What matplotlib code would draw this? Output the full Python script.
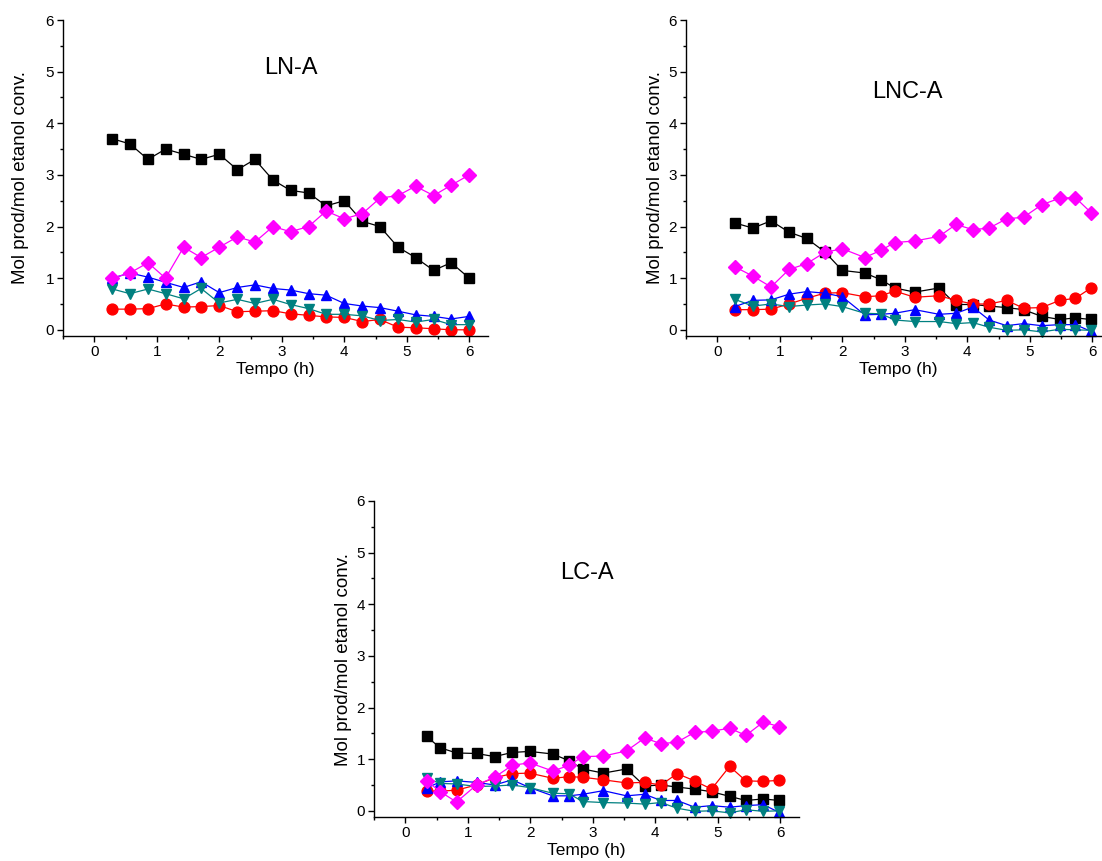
import matplotlib
matplotlib.use("Agg")
import matplotlib.pyplot as plt
from matplotlib.ticker import MultipleLocator

plt.rcParams['font.family'] = ['Liberation Sans', 'DejaVu Sans']

# --- LN-A ---
t_lna = [0.29, 0.57, 0.86, 1.14, 1.43, 1.71, 2.0, 2.29, 2.57, 2.86, 3.14,
         3.43, 3.71, 4.0, 4.29, 4.57, 4.86, 5.14, 5.43, 5.71, 6.0]
lna_sq = [3.7, 3.6, 3.3, 3.5, 3.4, 3.3, 3.4, 3.1, 3.3, 2.9, 2.7,
          2.65, 2.4, 2.5, 2.1, 2.0, 1.6, 1.4, 1.15, 1.3, 1.0]
lna_ci = [0.4, 0.4, 0.41, 0.5, 0.44, 0.45, 0.47, 0.35, 0.36, 0.37, 0.31,
          0.28, 0.25, 0.24, 0.16, 0.2, 0.05, 0.04, 0.02, 0.0, 0.0]
lna_up = [1.0, 1.1, 1.02, 0.92, 0.82, 0.93, 0.72, 0.82, 0.87, 0.8, 0.77,
          0.7, 0.67, 0.51, 0.46, 0.43, 0.36, 0.29, 0.26, 0.21, 0.26]
lna_dn = [0.79, 0.7, 0.79, 0.7, 0.6, 0.8, 0.52, 0.59, 0.51, 0.59, 0.49,
          0.41, 0.3, 0.3, 0.27, 0.18, 0.2, 0.15, 0.2, 0.1, 0.1]
lna_di = [1.0, 1.1, 1.3, 1.0, 1.6, 1.4, 1.6, 1.8, 1.7, 2.0, 1.9,
          2.0, 2.3, 2.15, 2.25, 2.55, 2.6, 2.78, 2.6, 2.8, 3.0]

# --- LNC-A ---
t_lnca = [0.28, 0.57, 0.86, 1.15, 1.43, 1.72, 2.0, 2.36, 2.62, 2.84, 3.16,
          3.55, 3.82, 4.09, 4.35, 4.63, 4.9, 5.19, 5.48, 5.73, 5.98]
lnca_sq = [2.07, 1.97, 2.11, 1.89, 1.77, 1.51, 1.15, 1.1, 0.97, 0.81, 0.73,
           0.81, 0.49, 0.49, 0.46, 0.43, 0.39, 0.26, 0.2, 0.23, 0.2]
lnca_ci = [0.39, 0.39, 0.4, 0.5, 0.61, 0.71, 0.72, 0.64, 0.66, 0.75, 0.63,
           0.66, 0.57, 0.5, 0.5, 0.57, 0.42, 0.43, 0.57, 0.61, 0.81]
lnca_up = [0.45, 0.57, 0.58, 0.69, 0.74, 0.71, 0.64, 0.29, 0.3, 0.32, 0.39,
           0.3, 0.32, 0.44, 0.19, 0.08, 0.12, 0.08, 0.1, 0.1, -0.03]
lnca_dn = [0.59, 0.46, 0.5, 0.45, 0.48, 0.5, 0.45, 0.32, 0.31, 0.19, 0.16,
           0.16, 0.12, 0.14, 0.05, -0.01, 0.0, -0.04, 0.01, 0.0, -0.01]
lnca_di = [1.22, 1.04, 0.83, 1.17, 1.28, 1.5, 1.57, 1.4, 1.54, 1.69, 1.72,
           1.81, 2.04, 1.94, 1.97, 2.15, 2.18, 2.42, 2.55, 2.56, 2.27]

# --- LC-A ---
t_lca = [0.34, 0.56, 0.82, 1.14, 1.43, 1.71, 1.99, 2.36, 2.62, 2.84, 3.17,
         3.54, 3.83, 4.09, 4.35, 4.63, 4.9, 5.19, 5.45, 5.73, 5.98]
lca_sq = [1.44, 1.22, 1.12, 1.11, 1.05, 1.13, 1.15, 1.1, 0.97, 0.81, 0.73,
          0.81, 0.48, 0.5, 0.46, 0.42, 0.37, 0.28, 0.2, 0.23, 0.2]
lca_ci = [0.38, 0.38, 0.4, 0.5, 0.64, 0.72, 0.73, 0.63, 0.66, 0.65, 0.6,
          0.54, 0.55, 0.5, 0.72, 0.58, 0.42, 0.86, 0.58, 0.57, 0.59]
lca_up = [0.44, 0.56, 0.58, 0.55, 0.5, 0.6, 0.45, 0.29, 0.29, 0.32, 0.39,
          0.29, 0.32, 0.2, 0.2, 0.07, 0.1, 0.07, 0.1, 0.12, -0.03]
lca_dn = [0.63, 0.53, 0.52, 0.47, 0.48, 0.5, 0.45, 0.34, 0.33, 0.18, 0.16,
          0.15, 0.13, 0.16, 0.05, -0.01, 0.0, -0.04, 0.02, -0.01, 0.0]
lca_di = [0.58, 0.37, 0.17, 0.5, 0.65, 0.88, 0.93, 0.77, 0.88, 1.05, 1.06,
          1.16, 1.41, 1.3, 1.33, 1.52, 1.54, 1.6, 1.46, 1.72, 1.63]

colors = ['#000000', '#FF0000', '#0000FF', '#008080', '#FF00FF']
markers = ['s', 'o', '^', 'v', 'D']
msizes = [6.8, 7.8, 7.8, 7.8, 6.8]

panels = [
    ("LN-A", t_lna, [lna_sq, lna_ci, lna_up, lna_dn, lna_di],
     [63, 20, 488, 336], (3.14, 5.07), 12),
    ("LNC-A", t_lnca, [lnca_sq, lnca_ci, lnca_up, lnca_dn, lnca_di],
     [686, 20, 1111, 336], (3.04, 4.61), 3),
    ("LC-A", t_lca, [lca_sq, lca_ci, lca_up, lca_dn, lca_di],
     [374, 501, 799, 817], (2.9, 4.6), 3),
]

W, H = 1102, 861
fig = plt.figure(figsize=(W / 100, H / 100), dpi=100)

for name, t, series, (x0, y0, x1, y1), (tx, ty), ypad in panels:
    ax = fig.add_axes([x0 / W, 1 - y1 / H, (x1 - x0) / W, (y1 - y0) / H])
    for ys, c, m, ms in zip(series, colors, markers, msizes):
        ax.plot(t, ys, color=c, marker=m, markersize=ms, linewidth=0.9,
                markeredgecolor=c, markerfacecolor=c, clip_on=False)
    ax.set_xlim(-0.5, 6.3)
    ax.set_ylim(-0.12, 6.0)
    ax.xaxis.set_major_locator(MultipleLocator(1))
    ax.xaxis.set_minor_locator(MultipleLocator(0.5))
    ax.yaxis.set_major_locator(MultipleLocator(1))
    ax.yaxis.set_minor_locator(MultipleLocator(0.5))
    for s in ('top', 'right'):
        ax.spines[s].set_visible(False)
    for s in ('left', 'bottom'):
        ax.spines[s].set_linewidth(1.0)
    ax.tick_params(which='major', direction='out', length=4.5, width=1.0,
                   labelsize=11, pad=2)
    ax.tick_params(which='minor', direction='out', length=2.5, width=1.0)
    ax.set_xlabel("Tempo (h)", fontsize=12.5, labelpad=2)
    ax.set_ylabel("Mol prod/mol etanol conv.", fontsize=13.5, labelpad=ypad)
    ax.text(tx, ty, name, fontsize=17, ha='center', va='center')

fig.savefig("out.png", dpi=100)
